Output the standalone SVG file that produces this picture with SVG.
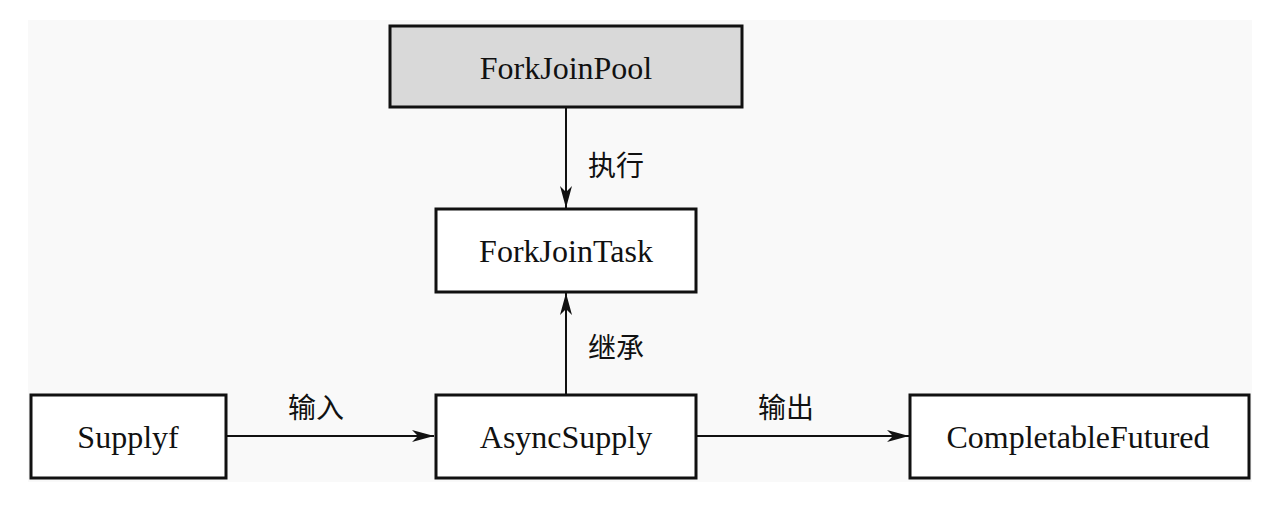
<svg xmlns="http://www.w3.org/2000/svg" width="1280" height="509" viewBox="0 0 1280 509">
<style>
.box{fill:#ffffff;stroke:#111;stroke-width:3}
.gray{fill:#d9d9d9}
.t{font-family:"Liberation Serif",serif;font-size:32px;fill:#111;text-anchor:middle;dominant-baseline:central}
.c{font-family:"Noto Sans CJK SC",sans-serif;font-size:28px;fill:#111;text-anchor:middle;dominant-baseline:central}
.ln{stroke:#111;stroke-width:2;fill:none;marker-end:url(#ah)}
</style>
<defs>
<marker id="ah" viewBox="0 0 22 12" refX="22" refY="6" markerWidth="22" markerHeight="12" markerUnits="userSpaceOnUse" orient="auto">
<path d="M0,0 L22,6 L0,12 L6,6 Z" fill="#111"/>
</marker>
</defs>
<rect x="0" y="0" width="1280" height="509" fill="#ffffff"/>
<rect x="28" y="20" width="1224" height="462" fill="#f9f9f9"/>
<g id="connectors">
<line class="ln" x1="566" y1="108" x2="566" y2="208"/>
<line class="ln" x1="566" y1="394" x2="566" y2="293"/>
<line class="ln" x1="227" y1="436" x2="434" y2="436"/>
<line class="ln" x1="697" y1="436" x2="909" y2="436"/>
<text class="c" x="616" y="164">执行</text>
<text class="c" x="616" y="346">继承</text>
<text class="c" x="316" y="406">输入</text>
<text class="c" x="786" y="406">输出</text>
</g>
<g id="forkjoinpool">
<rect class="box gray" x="390" y="26" width="352" height="81"/>
<text class="t" x="566" y="68">ForkJoinPool</text>
</g>
<g id="forkjointask">
<rect class="box" x="436" y="209" width="260" height="83"/>
<text class="t" x="566" y="251">ForkJoinTask</text>
</g>
<g id="supplyf">
<rect class="box" x="31" y="395" width="195" height="83"/>
<text class="t" x="128" y="437">Supplyf</text>
</g>
<g id="asyncsupply">
<rect class="box" x="436" y="395" width="260" height="83"/>
<text class="t" x="566" y="437">AsyncSupply</text>
</g>
<g id="completablefutured">
<rect class="box" x="910" y="395" width="339" height="83"/>
<text class="t" x="1078" y="437">CompletableFutured</text>
</g>
</svg>
